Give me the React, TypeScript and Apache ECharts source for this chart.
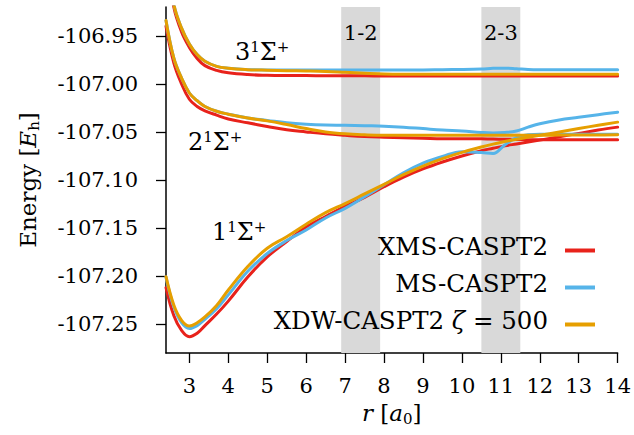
import React, { useEffect, useRef } from 'react';
import * as echarts from 'echarts';

const FONT = 'DejaVu Serif';

// bond length grid (a0)
const r = [2.4, 2.6, 2.8, 3.0, 3.2, 3.4, 3.7, 4.0, 4.5, 5.0, 5.5, 6.0, 6.5, 7.0, 7.5, 8.0, 8.5, 9.0, 9.5, 10.0, 10.5, 10.8, 11.1, 11.4, 11.7, 12.0, 12.5, 13.0, 13.5, 14.0];

// XMS-CASPT2
const xmsS1 = [-107.212, -107.241, -107.2565, -107.263, -107.2595, -107.2515, -107.2395, -107.226, -107.201, -107.180, -107.164, -107.149, -107.138, -107.1275, -107.118, -107.107, -107.097, -107.0885, -107.0813, -107.075, -107.0695, -107.067, -107.0645, -107.0625, -107.0605, -107.0585, -107.055, -107.0515, -107.048, -107.045];
const xmsS2 = [-106.940, -106.978, -107.000, -107.016, -107.0235, -107.028, -107.0325, -107.0365, -107.0405, -107.0443, -107.0478, -107.050, -107.052, -107.0535, -107.0548, -107.0555, -107.056, -107.0565, -107.057, -107.057, -107.0572, -107.0574, -107.0576, -107.0578, -107.058, -107.058, -107.058, -107.058, -107.058, -107.058];
const xmsS3 = [-106.865, -106.920, -106.946, -106.962, -106.9735, -106.981, -106.986, -106.9885, -106.9903, -106.991, -106.9913, -106.9914, -106.9915, -106.9915, -106.9916, -106.9917, -106.9917, -106.9917, -106.9917, -106.9917, -106.9917, -106.9917, -106.9917, -106.9917, -106.9917, -106.9917, -106.9917, -106.9917, -106.9917, -106.9917];

// MS-CASPT2
const msS1 = [-107.201, -107.232, -107.2485, -107.2545, -107.2515, -107.245, -107.234, -107.2195, -107.195, -107.1765, -107.163, -107.152, -107.1395, -107.1295, -107.1175, -107.105, -107.0925, -107.0825, -107.0755, -107.0705, -107.0715, -107.0725, -107.0635, -107.056, -107.053, -107.0525, -107.0525, -107.0525, -107.0525, -107.0525];
const msS2 = [-106.934, -106.973, -106.994, -107.0095, -107.0175, -107.0235, -107.0285, -107.0315, -107.0355, -107.038, -107.0405, -107.042, -107.0428, -107.043, -107.0435, -107.044, -107.045, -107.0465, -107.048, -107.049, -107.0505, -107.051, -107.0505, -107.049, -107.045, -107.0415, -107.0375, -107.0348, -107.032, -107.0295];
const msS3 = [-106.860, -106.917, -106.942, -106.9585, -106.9695, -106.9765, -106.9818, -106.9838, -106.9852, -106.9855, -106.9855, -106.9855, -106.9855, -106.9855, -106.9855, -106.9855, -106.9855, -106.9855, -106.9852, -106.985, -106.9845, -106.9838, -106.9836, -106.9842, -106.985, -106.9852, -106.9852, -106.9852, -106.9852, -106.9852];

// XDW-CASPT2 zeta = 500
const xdwS1 = [-107.2006, -107.230, -107.246, -107.252, -107.2485, -107.2425, -107.2305, -107.2145, -107.190, -107.171, -107.159, -107.146, -107.134, -107.1245, -107.1145, -107.1045, -107.0945, -107.0855, -107.0778, -107.0712, -107.0657, -107.0627, -107.060, -107.0575, -107.0555, -107.0535, -107.050, -107.0465, -107.043, -107.0398];
const xdwS2 = [-106.934, -106.973, -106.994, -107.0095, -107.0175, -107.0235, -107.0285, -107.0315, -107.0355, -107.0385, -107.0423, -107.0465, -107.050, -107.052, -107.053, -107.0535, -107.0535, -107.0535, -107.0535, -107.0535, -107.0535, -107.0535, -107.0535, -107.0535, -107.0535, -107.0535, -107.0533, -107.0532, -107.0531, -107.053];
const xdwS3 = [-106.860, -106.917, -106.942, -106.9585, -106.9695, -106.9765, -106.9818, -106.9838, -106.9852, -106.9858, -106.9862, -106.9865, -106.987, -106.988, -106.989, -106.9898, -106.990, -106.990, -106.990, -106.990, -106.990, -106.990, -106.990, -106.990, -106.990, -106.990, -106.990, -106.990, -106.990, -106.990];

const xTicks = [3, 4, 5, 6, 7, 8, 9, 10, 11, 12, 13, 14];
const yTicks = [-107.25, -107.2, -107.15, -107.1, -107.05, -107.0, -106.95];

const bandFrom = [6.9, 10.5];
const bandTo = [7.9, 11.5];
const bandLabels = ['1-2', '2-3'];

const methodNames = ['XMS-CASPT2', 'MS-CASPT2', 'XDW-CASPT2 ζ = 500'];
const methodColors = ['#E8221B', '#56B4E9', '#E69F00'];
const methodStates = [
  [xmsS1, xmsS2, xmsS3],
  [msS1, msS2, msS3],
  [xdwS1, xdwS2, xdwS3],
];

const stateLabelTexts = ['3', '2', '1'];

export default function App() {
  const ref = useRef<HTMLDivElement>(null);

  useEffect(() => {
    if (!ref.current) return;
    const chart = echarts.init(ref.current, undefined, { renderer: 'svg' });

    const series: any[] = [];
    methodNames.forEach((name, mi) => {
      methodStates[mi].forEach((vals, si) => {
        const s: any = {
          type: 'line',
          name,
          color: methodColors[mi],
          data: r.map((x, i) => [x, vals[i]]),
          showSymbol: false,
          symbol: 'none',
          smooth: 0.4,
          clip: true,
          lineStyle: { color: methodColors[mi], width: 3, join: 'round', cap: 'round' },
          z: 2 + mi,
        };
        if (mi === 0 && si === 0) {
          s.markArea = {
            silent: true,
            z: 1,
            itemStyle: { color: '#D9D9D9' },
            label: {
              show: true,
              position: 'insideTop',
              distance: 15,
              color: '#000',
              fontSize: 21,
              fontFamily: FONT,
            },
            data: bandFrom.map((f, i) => [
              { xAxis: f, name: bandLabels[i] },
              { xAxis: bandTo[i] },
            ]),
          };
        }
        series.push(s);
      });
    });

    const legendCenters = [250, 287, 324];
    const legends = methodNames.map((name, i) => ({
      data: [name],
      right: 39,
      top: legendCenters[i] - 16,
      padding: 0,
      align: 'right',
      orient: 'vertical',
      icon: 'rect',
      itemWidth: 30,
      itemHeight: 4,
      selectedMode: false,
      formatter: (n: string) => n.replace('ζ', '{i|ζ}'),
      textStyle: {
        fontFamily: FONT,
        fontSize: 24.5,
        color: '#000',
        padding: [0, 12, 8, 0],
        rich: {
          i: { fontFamily: FONT, fontSize: 24.5, fontStyle: 'italic', color: '#000' },
        },
      },
    }));

    const stateLabelPos = [
      [235, 52],
      [188, 142],
      [212, 232],
    ];

    const graphic = stateLabelTexts.map((t, i) => ({
      type: 'text',
      x: stateLabelPos[i][0],
      y: stateLabelPos[i][1],
      silent: true,
      style: {
        text: `{n|${t}}{p|1}{n|Σ}{p|+}`,
        verticalAlign: 'middle',
        align: 'left',
        fill: '#000',
        font: `24px "${FONT}"`,
        rich: {
          n: { fontFamily: FONT, fontSize: 24, lineHeight: 26, fill: '#000' },
          p: { fontFamily: FONT, fontSize: 15, lineHeight: 15, verticalAlign: 'top', fill: '#000' },
        },
      },
    }));

    chart.setOption({
      animation: false,
      backgroundColor: '#fff',
      grid: { left: 166, right: 12, top: 7, bottom: 82, containLabel: false },
      xAxis: {
        type: 'value',
        min: 2.4,
        max: 14,
        name: '{i|r} [{i|a}{s|0}]',
        nameLocation: 'middle',
        nameGap: 47,
        nameTextStyle: {
          fontFamily: FONT,
          fontSize: 23,
          color: '#000',
          rich: {
            i: { fontFamily: FONT, fontSize: 23, fontStyle: 'italic', color: '#000', lineHeight: 26 },
            s: { fontFamily: FONT, fontSize: 15, color: '#000', verticalAlign: 'bottom', lineHeight: 15 },
          },
        },
        axisLine: { onZero: false, lineStyle: { color: '#000', width: 1.5 } },
        axisTick: { show: true, length: 10, customValues: xTicks, lineStyle: { color: '#000', width: 1.3 } },
        axisLabel: {
          customValues: xTicks,
          margin: 22,
          fontFamily: FONT,
          fontSize: 21,
          color: '#000',
          formatter: (v: number) => String(v),
        },
        splitLine: { show: false },
      },
      yAxis: {
        type: 'value',
        min: -107.28,
        max: -106.92,
        name: 'Energy [{i|E}{s|h}]',
        nameLocation: 'middle',
        nameRotate: 90,
        nameGap: 125,
        nameTextStyle: {
          fontFamily: FONT,
          fontSize: 23,
          color: '#000',
          rich: {
            i: { fontFamily: FONT, fontSize: 23, fontStyle: 'italic', color: '#000', lineHeight: 26 },
            s: { fontFamily: FONT, fontSize: 15, color: '#000', verticalAlign: 'bottom', lineHeight: 15 },
          },
        },
        axisLine: { onZero: false, lineStyle: { color: '#000', width: 1.5 } },
        axisTick: { show: true, length: 10, customValues: yTicks, lineStyle: { color: '#000', width: 1.3 } },
        axisLabel: {
          customValues: yTicks,
          margin: 28,
          fontFamily: FONT,
          fontSize: 21,
          color: '#000',
          formatter: (v: number) => v.toFixed(2),
        },
        splitLine: { show: false },
      },
      legend: legends,
      graphic,
      series,
    });

    return () => chart.dispose();
  }, []);

  return (
    <div
      ref={ref}
      style={{ position: 'absolute', left: 0, top: 0, width: 634, height: 435 }}
    />
  );
}
